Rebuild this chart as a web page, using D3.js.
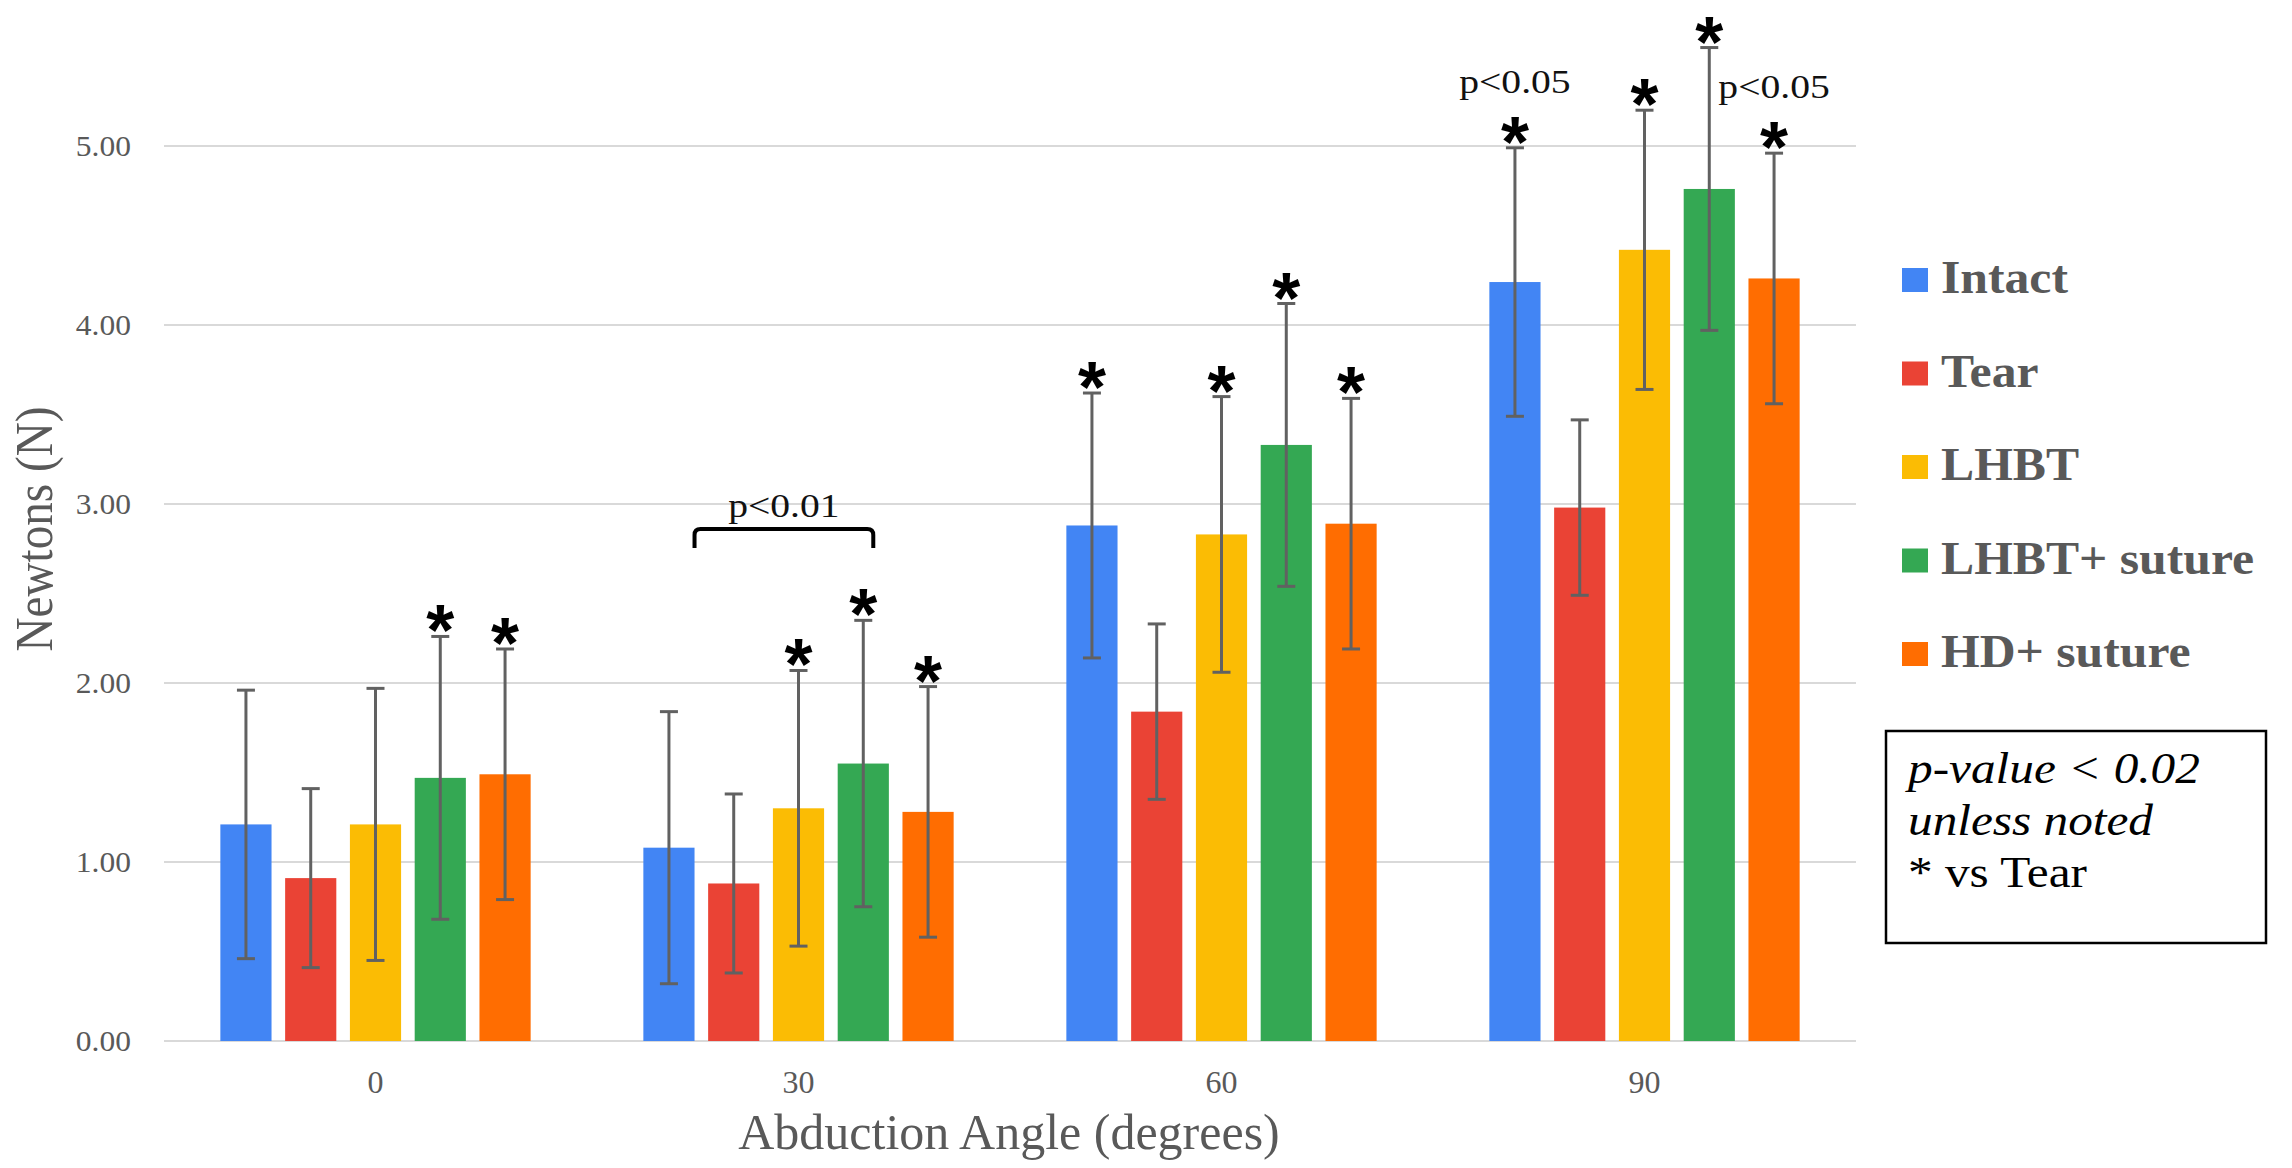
<!DOCTYPE html>
<html>
<head>
<meta charset="utf-8">
<script src="https://cdn.jsdelivr.net/npm/d3@7"></script>
<style>
  body { margin: 0; background: #fff; }
  text { font-family: "Liberation Serif", "Times New Roman", serif; }
</style>
</head>
<body>
<svg id="chart" width="2292" height="1168"></svg>
<script>
// Abduction angle groups and the five conditions
const angles = ['0', '30', '60', '90'];
const seriesNames = ['Intact', 'Tear', 'LHBT', 'LHBT+ suture', 'HD+ suture'];
const seriesColors = ['#4285F4', '#EA4335', '#FBBC04', '#34A853', '#FF6D01'];

// mean force (N) per angle
const intactMean = [1.21, 1.08, 2.88, 4.24];
const tearMean = [0.91, 0.88, 1.84, 2.98];
const lhbtMean = [1.21, 1.30, 2.83, 4.42];
const lhbtSutureMean = [1.47, 1.55, 3.33, 4.76];
const hdSutureMean = [1.49, 1.28, 2.89, 4.26];

// error bar half widths
const intactErr = [0.75, 0.76, 0.74, 0.75];
const tearErr = [0.50, 0.50, 0.49, 0.49];
const lhbtErr = [0.76, 0.77, 0.77, 0.78];
const lhbtSutureErr = [0.79, 0.80, 0.79, 0.79];
const hdSutureErr = [0.70, 0.70, 0.70, 0.70];

const yTicks = [0, 1, 2, 3, 4, 5];

// significance marks (* vs Tear)
const starMarks = [
    ['0', 'LHBT+ suture'], ['0', 'HD+ suture'],
    ['30', 'LHBT'], ['30', 'LHBT+ suture'], ['30', 'HD+ suture'],
    ['60', 'Intact'], ['60', 'LHBT'], ['60', 'LHBT+ suture'], ['60', 'HD+ suture'],
    ['90', 'Intact'], ['90', 'LHBT'], ['90', 'LHBT+ suture'], ['90', 'HD+ suture']
];
const pNotes = [
    { angle: '90', series: 'Intact', label: 'p<0.05' },
    { angle: '90', series: 'HD+ suture', label: 'p<0.05' }
];
const bracketNote = { angle: '30', from: 'Intact', to: 'LHBT+ suture', label: 'p<0.01' };

const boxLines = ['p-value < 0.02', 'unless noted', '* vs Tear'];

const means = [intactMean, tearMean, lhbtMean, lhbtSutureMean, hdSutureMean];
const errs = [intactErr, tearErr, lhbtErr, lhbtSutureErr, hdSutureErr];

const data = [];
angles.forEach((a, i) => {
    seriesNames.forEach((s, j) => {
        data.push({ angle: a, series: s, value: means[j][i], err: errs[j][i], color: seriesColors[j] });
    });
});
const findBar = (a, s) => data.find(d => d.angle === a && d.series === s);

const svg = d3.select('#chart');
const grey = '#595959';

const x0 = d3.scaleBand().domain(angles).range([164, 1856]).paddingInner(0).paddingOuter(0);
const x1 = d3.scaleBand().domain(seriesNames).range([0, x0.bandwidth()])
    .paddingInner(0.21).paddingOuter(0.87);
const y = d3.scaleLinear().domain([0, 5]).range([1041, 146]);

const barCx = d => x0(d.angle) + x1(d.series) + x1.bandwidth() / 2;

// stretch text horizontally to match the picture
function stretch(sel, k) {
    sel.each(function () {
        const len = this.getComputedTextLength();
        d3.select(this).attr('textLength', len * k).attr('lengthAdjust', 'spacingAndGlyphs');
    });
}

// grid lines
svg.append('g')
    .selectAll('line')
    .data(yTicks)
    .join('line')
    .attr('x1', 164).attr('x2', 1856)
    .attr('y1', d => y(d)).attr('y2', d => y(d))
    .attr('stroke', '#d9d9d9').attr('stroke-width', 2);

// y axis
const yAxis = svg.append('g')
    .attr('transform', 'translate(150,0)')
    .call(d3.axisLeft(y).tickValues(yTicks).tickFormat(d3.format('.2f')).tickSize(0).tickPadding(19));
yAxis.select('.domain').remove();
yAxis.selectAll('text')
    .attr('font-family', '"Liberation Serif", serif')
    .attr('font-size', 30)
    .attr('fill', grey);
stretch(yAxis.selectAll('text'), 1.05);

// x axis
const xAxis = svg.append('g')
    .attr('transform', 'translate(0,1041)')
    .call(d3.axisBottom(x0).tickSize(0).tickPadding(29));
xAxis.select('.domain').remove();
xAxis.selectAll('text')
    .attr('font-family', '"Liberation Serif", serif')
    .attr('font-size', 32)
    .attr('fill', grey);

// bars
svg.append('g')
    .selectAll('rect')
    .data(data)
    .join('rect')
    .attr('x', d => x0(d.angle) + x1(d.series))
    .attr('y', d => y(d.value))
    .attr('width', x1.bandwidth())
    .attr('height', d => y(0) - y(d.value))
    .attr('fill', d => d.color);

// error bars
const errG = svg.append('g').attr('stroke', '#616161').attr('stroke-width', 3);
errG.selectAll('line.stem')
    .data(data)
    .join('line')
    .attr('class', 'stem')
    .attr('x1', barCx).attr('x2', barCx)
    .attr('y1', d => y(d.value + d.err)).attr('y2', d => y(d.value - d.err));
errG.selectAll('line.capTop')
    .data(data)
    .join('line')
    .attr('class', 'capTop')
    .attr('x1', d => barCx(d) - 9).attr('x2', d => barCx(d) + 9)
    .attr('y1', d => y(d.value + d.err)).attr('y2', d => y(d.value + d.err));
errG.selectAll('line.capBot')
    .data(data)
    .join('line')
    .attr('class', 'capBot')
    .attr('x1', d => barCx(d) - 9).attr('x2', d => barCx(d) + 9)
    .attr('y1', d => y(d.value - d.err)).attr('y2', d => y(d.value - d.err));

// asterisks
svg.append('g')
    .selectAll('text')
    .data(starMarks.map(m => findBar(m[0], m[1])))
    .join('text')
    .attr('x', barCx)
    .attr('y', d => y(d.value + d.err) + 19)
    .attr('text-anchor', 'middle')
    .style('font-family', '"Liberation Sans", Arial, sans-serif')
    .attr('font-weight', 'bold')
    .attr('font-size', 72)
    .text('*');

// p notes above the 90 degree bars
const pText = svg.append('g')
    .selectAll('text')
    .data(pNotes)
    .join('text')
    .attr('x', d => barCx(findBar(d.angle, d.series)))
    .attr('y', d => { const b = findBar(d.angle, d.series); return y(b.value + b.err) - 55; })
    .attr('text-anchor', 'middle')
    .attr('font-size', 33)
    .attr('fill', '#111')
    .text(d => d.label);
stretch(pText, 1.2);

// bracket at 30 degrees
const bl = findBar(bracketNote.angle, bracketNote.from);
const br = findBar(bracketNote.angle, bracketNote.to);
const bxl = x0(bl.angle) + x1(bl.series) + x1.bandwidth();
const bxr = barCx(br) + 10;
const byTop = 529, byBot = 548, r = 6;
svg.append('path')
    .attr('d', `M${bxl},${byBot} L${bxl},${byTop + r} Q${bxl},${byTop} ${bxl + r},${byTop}
                L${bxr - r},${byTop} Q${bxr},${byTop} ${bxr},${byTop + r} L${bxr},${byBot}`)
    .attr('fill', 'none')
    .attr('stroke', '#000')
    .attr('stroke-width', 4);
const bText = svg.append('text')
    .attr('x', (bxl + bxr) / 2)
    .attr('y', byTop - 12)
    .attr('text-anchor', 'middle')
    .attr('font-size', 33)
    .attr('fill', '#111')
    .text(bracketNote.label);
stretch(bText, 1.2);

// axis titles
svg.append('text')
    .attr('x', 1009).attr('y', 1149)
    .attr('text-anchor', 'middle')
    .attr('font-size', 50)
    .attr('fill', grey)
    .text('Abduction Angle (degrees)');

const yTitle = svg.append('text')
    .attr('transform', 'translate(52,529) rotate(-90)')
    .attr('text-anchor', 'middle')
    .attr('font-size', 53)
    .attr('fill', grey)
    .text('Newtons (N)');
stretch(yTitle, 0.89);

// legend
const legend = svg.append('g').attr('transform', 'translate(1902,268)');
const legendRows = legend.selectAll('g')
    .data(seriesNames)
    .join('g')
    .attr('transform', (d, i) => `translate(0,${i * 93.5})`);
legendRows.append('rect')
    .attr('width', 26).attr('height', 24)
    .attr('fill', (d, i) => seriesColors[i]);
const legendText = legendRows.append('text')
    .attr('x', 39).attr('y', 25)
    .attr('font-size', 46)
    .attr('font-weight', 'bold')
    .attr('fill', grey)
    .text(d => d);
stretch(legendText, 1.08);

// note box
svg.append('rect')
    .attr('x', 1886).attr('y', 731)
    .attr('width', 380).attr('height', 212)
    .attr('fill', 'none')
    .attr('stroke', '#000')
    .attr('stroke-width', 2.5);
const boxText = svg.append('g')
    .selectAll('text')
    .data(boxLines)
    .join('text')
    .attr('x', 1908)
    .attr('y', (d, i) => 783 + i * 52)
    .attr('font-size', 44)
    .attr('font-style', (d, i) => i < 2 ? 'italic' : 'normal')
    .attr('fill', '#000')
    .text(d => d);
stretch(boxText, 1.12);
</script>
</body>
</html>
